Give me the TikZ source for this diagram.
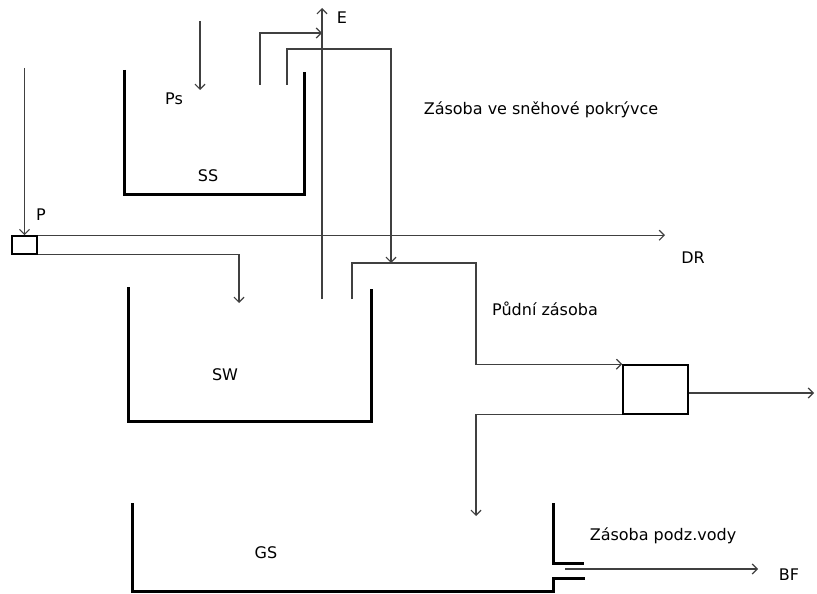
\documentclass[tikz,border=0pt]{standalone}
\usepackage{fontspec}
\setmainfont{DejaVu Sans}
\usetikzlibrary{arrows.meta}
\begin{document}
\begin{tikzpicture}[x=1pt,y=-1pt,
  wall/.style={line width=3pt,draw=black},
  flow/.style={line width=1.1pt,draw=black!75},
  arr/.style={flow,-{Straight Barb[length=5pt,width=10pt,line width=1.2pt]}},
  lbl/.style={font=\fontsize{16}{18}\selectfont,inner sep=0pt,text=black},
  boxn/.style={draw=black,line width=1.6pt,inner sep=0pt}]
\useasboundingbox (0,0) rectangle (817,594);

% containers (walls)
\draw[wall] (124.5,70) -- (124.5,194) -- (304,194) -- (304,72);
\draw[wall] (128,287) -- (128,421) -- (371,421) -- (371,289);
\draw[wall] (132.5,503) -- (132.5,591) -- (553,591) -- (553,578) -- (585,578);
\draw[wall] (553,503) -- (553,563) -- (584,563);

% boxes
\node[boxn,minimum width=25pt,minimum height=18pt] (pbox) at (24.5,245) {};
\node[boxn,minimum width=65pt,minimum height=49pt] (rbox) at (655.5,389.5) {};

% coordinates
\coordinate (pin) at (24.5,68);
\coordinate (dr) at (665,236);
\coordinate (swin) at (239,303);
\coordinate (psin) at (200,21);
\coordinate (pstip) at (200,90);
\coordinate (ebot) at (322,299);
\coordinate (etop) at (322,8);
\coordinate (s1) at (260,85);
\coordinate (e1) at (322,33);
\coordinate (s2) at (287,85);
\coordinate (c2) at (391,49);
\coordinate (m2) at (391,263);
\coordinate (s3) at (352,299);
\coordinate (c3) at (476,263);
\coordinate (out) at (814,393);
\coordinate (gsin) at (476,516);
\coordinate (bfs) at (565,569);
\coordinate (bfe) at (758,569);

% flows
\draw[arr] (pin) -- (pbox.north);
\draw[arr] (pbox.north east) -- (pbox.north east -| dr);
\draw[arr] (pbox.south east) -| (swin);
\draw[arr] (psin) -- (pstip);
\draw[arr] (ebot) -- (etop);
\draw[arr] (s1) |- (e1);
\draw[arr] (s2) |- (c2) -- (m2);
\draw[arr] (s3) |- (c3) |- (rbox.north west);
\draw[arr] (rbox.east |- out) -- (out);
\draw[arr] (rbox.south west) -| (gsin);
\draw[arr] (bfs) -- (bfe);

% labels
\node[lbl] (lps) at (174,99) {Ps};
\node[lbl] (lss) at (208,176) {SS};
\node[lbl] (lsw) at (225,375) {SW};
\node[lbl] (lgs) at (266,553) {GS};
\node[lbl] (le) at (342,18) {E};
\node[lbl] (lp) at (41,215) {P};
\node[lbl] (ldr) at (693,258) {DR};
\node[lbl] (lbf) at (789,575) {BF};
\node[lbl] (lsnow) at (541,110) {Zásoba ve sněhové pokrývce};
\node[lbl] (lsoil) at (545,309) {Půdní zásoba};
\node[lbl] (lgw) at (663,536) {Zásoba podz.vody};
\end{tikzpicture}
\end{document}
